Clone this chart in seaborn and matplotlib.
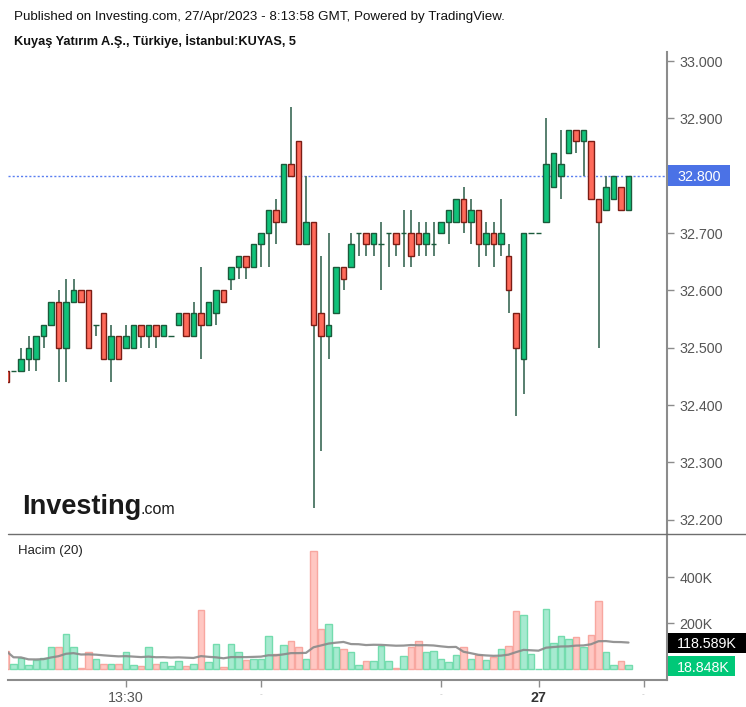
import numpy as np
import pandas as pd
import matplotlib
matplotlib.use("Agg")
import matplotlib.pyplot as plt
from matplotlib.patches import Rectangle
from matplotlib.lines import Line2D
import seaborn as sns

# ---------------- data ----------------
opens = [32.46, 32.46, 32.46, 32.48, 32.48, 32.52, 32.54, 32.58, 32.50, 32.58,
         32.60, 32.60, 32.54, 32.56, 32.48, 32.52, 32.50, 32.50, 32.54, 32.52,
         32.54, 32.52, 32.52, 32.54, 32.56, 32.52, 32.56, 32.54, 32.56, 32.60,
         32.62, 32.64, 32.66, 32.64, 32.68, 32.70, 32.74, 32.72, 32.82, 32.86,
         32.68, 32.72, 32.56, 32.52, 32.56, 32.64, 32.64, 32.70, 32.70, 32.68,
         32.68, 32.70, 32.70, 32.70, 32.70, 32.70, 32.68, 32.68, 32.70, 32.72,
         32.72, 32.76, 32.72, 32.74, 32.68, 32.70, 32.68, 32.66, 32.56, 32.48,
         32.70, 32.70, 32.72, 32.78, 32.80, 32.84, 32.88, 32.86, 32.86, 32.76,
         32.74, 32.76, 32.78, 32.74]
highs = [32.46, 32.46, 32.50, 32.52, 32.52, 32.54, 32.58, 32.60, 32.62, 32.62,
         32.60, 32.60, 32.54, 32.56, 32.54, 32.52, 32.54, 32.54, 32.54, 32.54,
         32.54, 32.54, 32.52, 32.56, 32.56, 32.58, 32.64, 32.58, 32.60, 32.60,
         32.64, 32.66, 32.66, 32.68, 32.70, 32.74, 32.76, 32.82, 32.92, 32.86,
         32.80, 32.72, 32.66, 32.70, 32.64, 32.64, 32.70, 32.70, 32.70, 32.70,
         32.72, 32.70, 32.70, 32.74, 32.74, 32.72, 32.72, 32.72, 32.72, 32.74,
         32.76, 32.78, 32.76, 32.74, 32.72, 32.72, 32.76, 32.68, 32.56, 32.70,
         32.70, 32.70, 32.90, 32.84, 32.88, 32.88, 32.88, 32.88, 32.86, 32.76,
         32.80, 32.80, 32.78, 32.80]
lows = [32.44, 32.46, 32.46, 32.46, 32.46, 32.50, 32.54, 32.44, 32.44, 32.58,
        32.58, 32.50, 32.52, 32.48, 32.44, 32.48, 32.50, 32.50, 32.50, 32.50,
        32.50, 32.52, 32.52, 32.54, 32.52, 32.52, 32.48, 32.54, 32.54, 32.58,
        32.60, 32.62, 32.62, 32.64, 32.64, 32.64, 32.68, 32.72, 32.80, 32.68,
        32.68, 32.22, 32.32, 32.48, 32.56, 32.60, 32.64, 32.66, 32.66, 32.66,
        32.60, 32.64, 32.66, 32.64, 32.64, 32.66, 32.66, 32.66, 32.70, 32.68,
        32.72, 32.70, 32.68, 32.64, 32.66, 32.64, 32.66, 32.56, 32.38, 32.42,
        32.70, 32.70, 32.72, 32.78, 32.76, 32.84, 32.84, 32.80, 32.76, 32.50,
        32.74, 32.76, 32.74, 32.74]
closes = [32.44, 32.46, 32.48, 32.50, 32.52, 32.54, 32.58, 32.50, 32.58, 32.60,
          32.58, 32.50, 32.54, 32.48, 32.52, 32.48, 32.52, 32.54, 32.52, 32.54,
          32.52, 32.54, 32.52, 32.56, 32.52, 32.56, 32.54, 32.58, 32.60, 32.58,
          32.64, 32.66, 32.64, 32.68, 32.70, 32.74, 32.72, 32.82, 32.80, 32.68,
          32.72, 32.54, 32.52, 32.54, 32.64, 32.62, 32.68, 32.70, 32.68, 32.70,
          32.68, 32.70, 32.68, 32.70, 32.66, 32.68, 32.70, 32.68, 32.72, 32.74,
          32.76, 32.72, 32.74, 32.68, 32.70, 32.68, 32.70, 32.60, 32.50, 32.70,
          32.70, 32.70, 32.82, 32.84, 32.82, 32.88, 32.86, 32.88, 32.76, 32.72,
          32.78, 32.80, 32.74, 32.80]
volumes_k = [79, 23, 49, 17, 40, 49, 94, 94, 151, 94,
             3, 72, 45, 23, 23, 23, 72, 19, 14, 94,
             23, 30, 14, 35, 14, 23, 256, 30, 109, 9,
             109, 72, 40, 45, 45, 143, 65, 104, 122, 94,
             45, 515, 174, 196, 94, 86, 72, 17, 35, 35,
             101, 35, 3, 56, 94, 122, 72, 79, 45, 30,
             60, 94, 45, 60, 40, 52, 89, 101, 252, 233,
             66, 1, 261, 115, 143, 131, 138, 94, 147, 294,
             72, 17, 35, 18.848]
price_ticks = [32.2, 32.3, 32.4, 32.5, 32.6, 32.7, 32.8, 32.9, 33.0]
vol_ticks_k = [200, 400]
x_tick_pos = [16, 34, 58, 71, 85]
x_tick_labels = ["13:30", "-", "-", "27", "-"]
last_price = 32.80
last_vol_ma_label = "118.589K"
last_vol_label = "18.848K"

# ---------------- style ----------------
sns.set_theme(style="white")
plt.rcParams["font.family"] = ["Liberation Sans", "DejaVu Sans"]

UP = "#10c27a"
UP_EDGE = "#1b5a3b"
DN = "#ff6a5a"
DN_EDGE = "#7b1d15"
WICK = "#4a7563"
VUP = "#a6ead0"
VUP_EDGE = "#74dcae"
VDN = "#ffc7c2"
VDN_EDGE = "#f8a7a0"
AXC = "#8c8c8c"
LABC = "#555555"

W, H = 746, 707
fig = plt.figure(figsize=(W / 100, H / 100), dpi=100)
fig.patch.set_facecolor("white")


def rect(x0, y0, x1, y1):
    return [x0 / W, 1 - y1 / H, (x1 - x0) / W, (y1 - y0) / H]


axp = fig.add_axes(rect(8, 52, 667, 534))
axv = fig.add_axes(rect(8, 534, 667, 680), sharex=axp)

o = np.array(opens)
h = np.array(highs)
l = np.array(lows)
c = np.array(closes)
idx = np.arange(len(o))
up = c >= o

# ---------------- candles ----------------
axp.vlines(idx, l, h, color=WICK, lw=1.3, zorder=2)
axp.bar(idx, np.abs(c - o), bottom=np.minimum(o, c), width=0.68,
        color=np.where(up, UP, DN), edgecolor=np.where(up, UP_EDGE, DN_EDGE),
        linewidth=1.0, zorder=3)

axp.axhline(last_price, color="#5a7ff0", lw=1.0, ls=(0, (1.5, 1.5)), zorder=1)

axp.set_xlim((8 - 6) / 7.5, (667 - 6) / 7.5)
axp.set_ylim(32.175, 33.0157)
axp.yaxis.tick_right()
axp.set_yticks(price_ticks)
# the 32.800 label is hidden under the last-price box
axp.set_yticklabels(["" if abs(p - last_price) < 1e-9 else f"{p:.3f}" for p in price_ticks])
axp.tick_params(axis="y", colors=AXC, labelcolor=LABC, labelsize=10.3,
                length=5, width=1, pad=4, right=True, left=False)
axp.tick_params(axis="x", bottom=False, labelbottom=False)
for s in ["top", "left", "bottom"]:
    axp.spines[s].set_visible(False)
axp.spines["right"].set_color(AXC)
axp.spines["right"].set_linewidth(1.5)
axp.set_xlabel("")
axp.set_ylabel("")

# ---------------- volume ----------------
df = pd.DataFrame({"idx": idx, "vol": np.array(volumes_k) * 1000.0,
                   "dir": np.where(up, "up", "down")})
df["ma"] = df["vol"].rolling(20, min_periods=1).mean()

sns.barplot(data=df, x="idx", y="vol", hue="dir", dodge=False, native_scale=True,
            palette={"up": VUP, "down": VDN}, width=0.9, saturation=1,
            legend=False, ax=axv, linewidth=1.0, edgecolor="none", zorder=2)
for p in axv.patches:
    fc = matplotlib.colors.to_hex(p.get_facecolor())
    p.set_edgecolor(VUP_EDGE if fc == VUP else VDN_EDGE)
sns.lineplot(data=df, x="idx", y="ma", ax=axv, color="#8a8a8a", lw=1.6,
             alpha=0.9, zorder=3)

axv.set_xlim((8 - 6) / 7.5, (667 - 6) / 7.5)
axv.set_ylim(-47800, 587000)
axv.yaxis.tick_right()
axv.set_yticks([v * 1000 for v in vol_ticks_k])
axv.set_yticklabels([f"{v}K" for v in vol_ticks_k])
axv.tick_params(axis="y", colors=AXC, labelcolor=LABC, labelsize=10.3,
                length=5, width=1, pad=4, right=True, left=False)
axv.set_xticks(x_tick_pos)
axv.set_xticklabels(x_tick_labels)
axv.tick_params(axis="x", colors=AXC, labelcolor=LABC, labelsize=10.3,
                length=5, width=1, pad=3, bottom=True)
for t in axv.get_xticklabels():
    if t.get_text() == "27":
        t.set_fontweight("bold")
        t.set_color("#333333")
    elif t.get_text() == "-":
        t.set_fontsize(6)
        t.set_color("#c0c0c0")
for s in ["top", "left"]:
    axv.spines[s].set_visible(False)
for s in ["right", "bottom"]:
    axv.spines[s].set_color(AXC)
    axv.spines[s].set_linewidth(1.5)
axv.set_xlabel("")
axv.set_ylabel("")

# separator between panes
fig.add_artist(Line2D([8 / W, 1.0], [1 - 534 / H, 1 - 534 / H],
                      transform=fig.transFigure, color="#6e6e6e", lw=1.0))

# ---------------- value boxes ----------------
def box(x0, y0, x1, y1, color, text, tx):
    fig.add_artist(Rectangle((x0 / W, 1 - y1 / H), (x1 - x0) / W, (y1 - y0) / H,
                             transform=fig.transFigure, facecolor=color,
                             edgecolor="none", zorder=5))
    fig.text(tx / W, 1 - ((y0 + y1) / 2) / H, text, color="white", fontsize=10.3,
             ha="left", va="center_baseline", zorder=6)


box(668, 165, 730, 186, "#4b72e6", f"{last_price:.3f}", 677)
box(668, 633, 746, 653, "#000000", last_vol_ma_label, 677)
box(668, 656, 735, 676, "#00c878", last_vol_label, 677)

# ---------------- header texts ----------------
fig.text(14 / W, 1 - 17 / H,
         "Published on Investing.com, 27/Apr/2023 - 8:13:58 GMT, Powered by TradingView.",
         fontsize=9.6, color="#111111", ha="left", va="center")
fig.text(14 / W, 1 - 41 / H, "Kuyaş Yatırım A.Ş., Türkiye, İstanbul:KUYAS, 5",
         fontsize=9.2, fontweight="bold", color="#111111", ha="left", va="center")
fig.text(18 / W, 1 - 551 / H, "Hacim (20)", fontsize=9.5, color="#222222",
         ha="left", va="center")

# watermark logo
fig.text(22 / W, 1 - 514 / H, "Investing", fontsize=19.5, fontweight="bold",
         color="#1a1a1a", ha="left", va="baseline")
fig.text(140 / W, 1 - 514 / H, ".com", fontsize=11.5, color="#1a1a1a",
         ha="left", va="baseline")

fig.savefig("out.png", dpi=100, facecolor="white")
